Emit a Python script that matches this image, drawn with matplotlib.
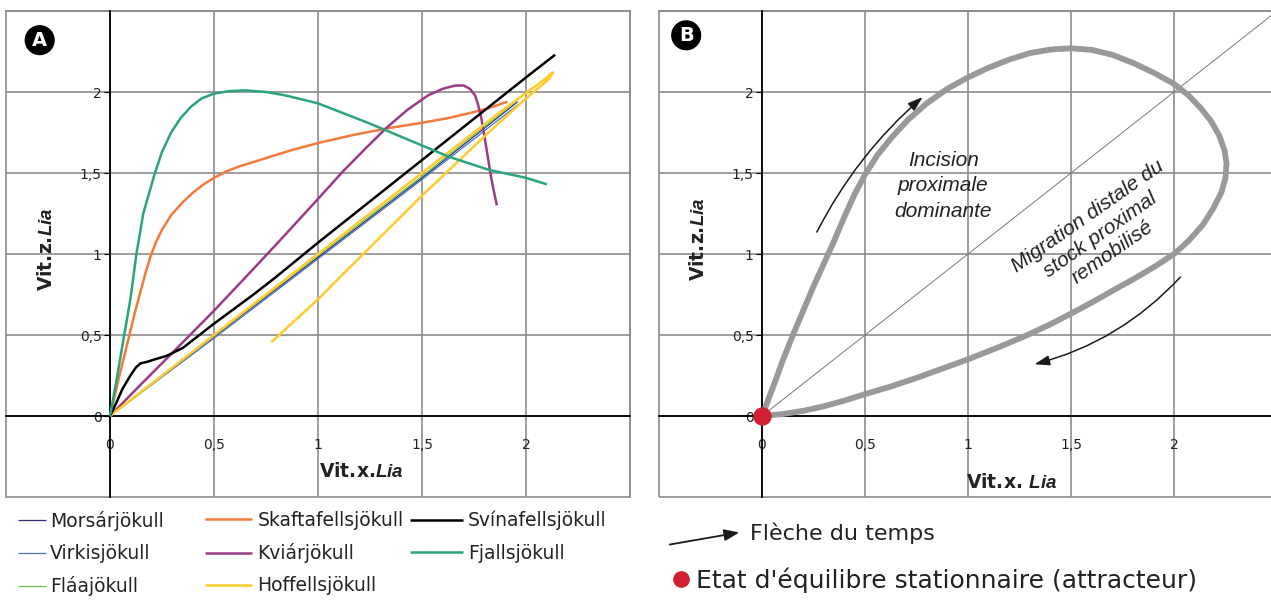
import matplotlib.pyplot as plt
from matplotlib.lines import Line2D
from matplotlib.patches import Rectangle

"""
Two phase diagrams: glacier velocity ratios (A) and conceptual hysteresis loop (B)
"""
plt.rcParams['font.family'] = ['DejaVu Sans']
plt.rcParams['text.color'] = '#222222'
plt.rcParams['mathtext.fontset'] = 'custom'
plt.rcParams['mathtext.it'] = 'Liberation Sans:italic:bold'

TICKS = [0, 0.5, 1, 1.5, 2]
TICK_LABELS = ['0', '0,5', '1', '1,5', '2']

# panel A: one curve per glacier (Vit.x.Lia, Vit.z.Lia)
morsar_x = [0, 0.5, 1.0, 1.5, 1.96]
morsar_y = [0, 0.49, 0.98, 1.47, 1.94]
virkis_x = [0, 0.5, 1.0, 1.5, 1.97]
virkis_y = [0, 0.48, 0.97, 1.46, 1.93]
flaa_x = [0, 0.5, 1.0, 1.5, 1.95]
flaa_y = [0, 0.495, 0.99, 1.48, 1.94]
skafta_x = [0, 0.04, 0.08, 0.12, 0.147, 0.17, 0.196, 0.22, 0.25, 0.294, 0.35, 0.4, 0.45,
            0.5, 0.56, 0.62, 0.745, 0.87, 1.0, 1.17, 1.33, 1.5, 1.63, 1.73, 1.82, 1.91]
skafta_y = [0, 0.22, 0.43, 0.64, 0.77, 0.88, 0.99, 1.07, 1.15, 1.24, 1.32, 1.38, 1.43,
            1.47, 1.51, 1.54, 1.59, 1.64, 1.685, 1.735, 1.775, 1.81, 1.84, 1.87, 1.90, 1.94]
kviar_x = [0, 0.137, 0.3, 0.5, 0.647, 0.8, 1.0, 1.12, 1.235, 1.33, 1.43, 1.53, 1.6, 1.66,
           1.70, 1.73, 1.755, 1.77, 1.785, 1.80, 1.815, 1.83, 1.845, 1.86]
kviar_y = [0, 0.18, 0.39, 0.65, 0.85, 1.06, 1.34, 1.51, 1.66, 1.78, 1.89, 1.98, 2.02, 2.04,
           2.04, 2.02, 1.98, 1.92, 1.84, 1.73, 1.61, 1.49, 1.39, 1.30]
hoff_x = [0, 0.5, 1.0, 1.5, 1.9, 2.05, 2.11, 2.13, 2.11, 2.0, 1.82, 1.5, 1.1, 1.0, 0.775]
hoff_y = [0, 0.5, 1.0, 1.5, 1.9, 2.04, 2.1, 2.12, 2.08, 1.96, 1.75, 1.36, 0.85, 0.72, 0.455]
svina_x = [0, 0.03, 0.059, 0.098, 0.125, 0.147, 0.18, 0.216, 0.27, 0.35, 0.5, 0.69, 0.8,
           1.0, 1.5, 2.0, 2.14]
svina_y = [0, 0.08, 0.165, 0.25, 0.3, 0.325, 0.335, 0.35, 0.37, 0.42, 0.57, 0.75, 0.86,
           1.07, 1.58, 2.09, 2.23]
fjalls_x = [0, 0.03, 0.059, 0.098, 0.127, 0.16, 0.216, 0.25, 0.294, 0.34, 0.39, 0.44, 0.5,
            0.57, 0.65, 0.75, 0.84, 1.0, 1.12, 1.24, 1.37, 1.5, 1.63, 1.82, 2.0, 2.1]
fjalls_y = [0, 0.21, 0.43, 0.72, 1.0, 1.25, 1.5, 1.63, 1.75, 1.84, 1.91, 1.96, 1.99,
            2.005, 2.01, 2.0, 1.98, 1.93, 1.87, 1.81, 1.74, 1.67, 1.60, 1.52, 1.47, 1.43]

GLACIERS = [
    ('Morsárjökull', morsar_x, morsar_y, '#2f2c74', 0.9),
    ('Virkisjökull', virkis_x, virkis_y, '#4d72c4', 0.9),
    ('Fláajökull', flaa_x, flaa_y, '#6cc24a', 0.9),
    ('Skaftafellsjökull', skafta_x, skafta_y, '#f5793a', 1.8),
    ('Kviárjökull', kviar_x, kviar_y, '#9b3b85', 1.8),
    ('Hoffellsjökull', hoff_x, hoff_y, '#ffcb2c', 1.8),
    ('Svínafellsjökull', svina_x, svina_y, 'black', 1.8),
    ('Fjallsjökull', fjalls_x, fjalls_y, '#2ba47a', 1.8),
]

# panel B: conceptual loop
loop_x = [0, 0.03, 0.06, 0.1, 0.15, 0.2, 0.25, 0.3, 0.35, 0.4, 0.45, 0.5, 0.56, 0.63, 0.71,
          0.8, 0.9, 1.0, 1.1, 1.2, 1.3, 1.4, 1.5, 1.6, 1.7, 1.8, 1.9, 2.0, 2.07, 2.13, 2.18,
          2.22, 2.245, 2.255, 2.25, 2.23, 2.19, 2.14, 2.07, 2.0, 1.91, 1.81, 1.7, 1.6, 1.5,
          1.39, 1.28, 1.14, 1.0, 0.87, 0.75, 0.62, 0.5, 0.4, 0.3, 0.2, 0.1, 0]
loop_y = [0, 0.1, 0.2, 0.34, 0.5, 0.65, 0.8, 0.94, 1.08, 1.23, 1.37, 1.49, 1.61, 1.72, 1.83,
          1.93, 2.02, 2.09, 2.15, 2.2, 2.24, 2.262, 2.27, 2.26, 2.23, 2.18, 2.12, 2.05, 1.98,
          1.9, 1.82, 1.73, 1.64, 1.56, 1.47, 1.38, 1.28, 1.18, 1.08, 1.0, 0.925, 0.85, 0.772,
          0.70, 0.632, 0.56, 0.495, 0.42, 0.35, 0.29, 0.235, 0.18, 0.135, 0.095, 0.06,
          0.032, 0.012, 0]
diag_x = [0, 2.6]
diag_y = [0, 2.6]

W, H = 1271, 601


def px_axes(left, right, top, bottom):
    return [left / W, 1 - bottom / H, (right - left) / W, (bottom - top) / H]


def setup(ax, xlab):
    ax.set_xlim(-0.5, 2.5)
    ax.set_ylim(-0.5, 2.5)
    ax.set_xticks(TICKS)
    ax.set_xticklabels(TICK_LABELS)
    ax.set_yticks(TICKS)
    ax.set_yticklabels(TICK_LABELS)
    ax.grid(True, color='#8c8c8c', lw=1.2)
    ax.set_axisbelow(True)
    for side in ['top', 'right']:
        ax.spines[side].set_color('#8c8c8c')
        ax.spines[side].set_linewidth(1.2)
    for side in ['left', 'bottom']:
        ax.spines[side].set_position(('data', 0))
        ax.spines[side].set_linewidth(1.3)
        ax.spines[side].set_zorder(3)
    ax.add_patch(Rectangle((0, 0), 1, 1, transform=ax.transAxes, fill=False,
                           ec='#8c8c8c', lw=1.2, clip_on=False))
    ax.tick_params(axis='x', length=0, pad=16, labelsize=10, labelcolor='#222222')
    ax.tick_params(axis='y', length=4, pad=2, labelsize=10, labelcolor='#222222')
    ax.set_xlabel(xlab, fontsize=13.5, fontweight='bold', color='#222222')
    ax.set_ylabel('Vit.z.$\\mathit{Lia}$', fontsize=13.5, fontweight='bold',
                  color='#222222')


def panel_tag(ax, letter, x, y):
    ax.text(x, y, letter, transform=ax.transAxes, ha='center', va='center',
            color='white', fontsize=14, fontweight='bold',
            bbox=dict(boxstyle='circle,pad=0.25', fc='black', ec='black'))


fig = plt.figure(figsize=(W / 100, H / 100), dpi=100)

# ---- panel A
axA = fig.add_axes(px_axes(6, 630, 11, 497))
setup(axA, 'Vit.x.$\\mathit{Lia}$')
axA.xaxis.set_label_coords(0.57, 0.072)
axA.yaxis.set_label_coords(0.080, 0.51)
handles = {}
for name, xs, ys, col, lw in GLACIERS:
    (ln,) = axA.plot(xs, ys, color=col, lw=lw, solid_capstyle='butt', zorder=4)
    handles[name] = ln
panel_tag(axA, 'A', 0.054, 0.94)

# legend in three fixed columns
cols = [(['Morsárjökull', 'Virkisjökull', 'Fláajökull'], 18, 1.5, 0.2),
        (['Skaftafellsjökull', 'Kviárjökull', 'Hoffellsjökull'], 205, 2.5, 0.3),
        (['Svínafellsjökull', 'Fjallsjökull'], 410, 2.8, 0.3)]
for names, x0, hl, tp in cols:
    fig.legend([handles[n] for n in names], names, loc='upper left',
               bbox_to_anchor=(x0 / W, 1 - 511 / H), frameon=False, fontsize=13.5,
               handlelength=hl, handletextpad=tp, labelspacing=0.7,
               borderpad=0, borderaxespad=0)

# ---- panel B
axB = fig.add_axes(px_axes(659, 1277, 11, 497))
setup(axB, 'Vit.x. $\\mathit{Lia}$')
axB.xaxis.set_label_coords(0.57, 0.05)
axB.yaxis.set_label_coords(0.08, 0.53)
axB.plot(diag_x, diag_y, color='#7a7a7a', lw=0.7, zorder=2)
axB.plot(loop_x, loop_y, color='#999999', lw=4.2, solid_joinstyle='round', zorder=4)
axB.scatter([0], [0], s=150, color='#d12030', zorder=6, clip_on=False)
panel_tag(axB, 'B', 0.044, 0.95)

arrow = dict(arrowstyle='-|>,head_length=0.9,head_width=0.3', color='#1a1a1a', lw=1.1)
axB.annotate('', xy=(0.79, 1.98), xytext=(0.26, 1.12),
             arrowprops=dict(connectionstyle='arc3,rad=-0.1', **arrow))
axB.annotate('', xy=(1.31, 0.315), xytext=(2.04, 0.87),
             arrowprops=dict(connectionstyle='arc3,rad=-0.15', **arrow))
axB.text(0.88, 1.42, 'Incision\nproximale\ndominante', ha='center', va='center',
         fontsize=15, style='italic', family='Liberation Sans', color='#222222',
         linespacing=1.45, zorder=5)
axB.text(1.64, 1.12, 'Migration distale du\nstock proximal\nremobilisé', ha='center',
         va='center', rotation=35, rotation_mode='anchor', fontsize=15, style='italic',
         family='Liberation Sans', color='#222222', linespacing=1.2, zorder=5)

# key for panel B
axB.annotate('', xy=(742 / W, 1 - 532 / H), xytext=(667 / W, 1 - 545 / H),
             xycoords='figure fraction', textcoords='figure fraction',
             arrowprops=dict(arrowstyle='-|>,head_length=0.9,head_width=0.35',
                             color='#1a1a1a', lw=1.3))
fig.text(750 / W, 1 - 533 / H, 'Flèche du temps', fontsize=16, va='center',
         color='#222222')
dot = Line2D([], [], marker='o', ls='none', color='#d12030', markersize=11)
fig.legend([dot], ["Etat d'équilibre stationnaire (attracteur)"], loc='center left',
           bbox_to_anchor=(671 / W, 1 - 580 / H), frameon=False, fontsize=18,
           handlelength=0.8, handletextpad=0.2, borderpad=0, borderaxespad=0)

fig.savefig('out.png', dpi=100)
